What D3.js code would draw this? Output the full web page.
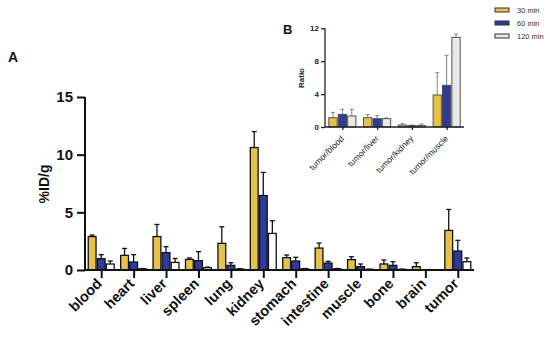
<!DOCTYPE html>
<html>
<head>
<meta charset="utf-8">
<script src="https://cdn.jsdelivr.net/npm/d3@7"></script>
<style>
  body { margin: 0; background: #fff; }
  svg { font-family: "Liberation Sans", Arial, sans-serif; }
</style>
</head>
<body>
<svg id="chart" width="550" height="344"></svg>
<script>
// biodistribution (%ID/g), mean and SD per time point
const organs = ["blood", "heart", "liver", "spleen", "lung", "kidney", "stomach", "intestine", "muscle", "bone", "brain", "tumor"];
const series = ["30 min", "60 min", "120 min"];
const mean30 = [2.9, 1.27, 2.9, 0.92, 2.31, 10.62, 1.07, 1.9, 0.9, 0.52, 0.29, 3.43];
const sd30 = [0.13, 0.6, 1.05, 0.12, 1.44, 1.38, 0.23, 0.44, 0.25, 0.35, 0.34, 1.82];
const mean60 = [0.98, 0.69, 1.5, 0.81, 0.4, 6.46, 0.78, 0.6, 0.29, 0.4, 0.03, 1.64];
const sd60 = [0.35, 0.64, 0.52, 0.78, 0.23, 2.0, 0.32, 0.15, 0.23, 0.32, 0, 0.93];
const mean120 = [0.52, 0.1, 0.66, 0.2, 0.08, 3.17, 0.1, 0.1, 0.05, 0.05, 0.02, 0.72];
const sd120 = [0.26, 0.03, 0.34, 0.05, 0.03, 1.1, 0.03, 0.03, 0.02, 0.02, 0, 0.32];

// tumor-to-organ ratios
const ratios = ["tumor/blood", "tumor/liver", "tumor/kidney", "tumor/muscle"];
const ratio30 = [1.13, 1.13, 0.24, 3.89];
const ratioSd30 = [0.65, 0.37, 0.16, 2.71];
const ratio60 = [1.54, 1.01, 0.16, 5.07];
const ratioSd60 = [0.61, 0.37, 0.08, 3.65];
const ratio120 = [1.34, 1.01, 0.2, 10.9];
const ratioSd120 = [0.81, 0.09, 0.17, 0.4];

const mainTicks = [0, 5, 10, 15];
const insetTicks = [0, 4, 8, 12];

const colors = ["#e6c24a", "#2e3a9c", "#ffffff"];
const insetColors = ["#e6c24a", "#2e3a9c", "#e9e9e9"];

function toRows(cats, means, sds) {
  return cats.map((c, i) => ({
    cat: c,
    vals: series.map((s, j) => ({ key: s, idx: j, v: means[j][i], sd: sds[j][i] }))
  }));
}

const svg = d3.select('#chart');

function drawBars(g, rows, x0, y, opts) {
  const x1 = d3.scaleBand()
    .domain(series)
    .range([0, x0.bandwidth()])
    .paddingInner(opts.innerPad);

  const group = g.append('g')
    .selectAll('g')
    .data(rows)
    .join('g')
    .attr('transform', d => `translate(${x0(d.cat)},0)`);

  const bar = group.selectAll('g')
    .data(d => d.vals)
    .join('g');

  // error bars (upper only)
  bar.filter(d => d.sd > 0)
    .append('line')
    .attr('x1', d => x1(d.key) + x1.bandwidth() / 2)
    .attr('x2', d => x1(d.key) + x1.bandwidth() / 2)
    .attr('y1', d => y(d.v))
    .attr('y2', d => y(d.v + d.sd))
    .attr('stroke', opts.errColor)
    .attr('stroke-width', opts.errWidth);
  bar.filter(d => d.sd > 0)
    .append('line')
    .attr('x1', d => x1(d.key) + x1.bandwidth() / 2 - opts.cap)
    .attr('x2', d => x1(d.key) + x1.bandwidth() / 2 + opts.cap)
    .attr('y1', d => y(d.v + d.sd))
    .attr('y2', d => y(d.v + d.sd))
    .attr('stroke', opts.errColor)
    .attr('stroke-width', opts.errWidth);

  bar.append('rect')
    .attr('x', d => x1(d.key))
    .attr('width', x1.bandwidth())
    .attr('y', d => y(d.v))
    .attr('height', d => y(0) - y(d.v))
    .attr('fill', d => opts.colors[d.idx])
    .attr('stroke', opts.stroke)
    .attr('stroke-width', opts.strokeWidth);
}

// ---- panel A ----
const xMain = d3.scaleBand()
  .domain(organs)
  .range([85, 474])
  .paddingInner(0.2)
  .paddingOuter(0.1);

const yMain = d3.scaleLinear()
  .domain([0, 15])
  .range([270, 97]);

const gA = svg.append('g');

drawBars(gA, toRows(organs, [mean30, mean60, mean120], [sd30, sd60, sd120]), xMain, yMain, {
  innerPad: 0.14, colors: colors, stroke: '#111', strokeWidth: 1.3,
  errColor: '#111', errWidth: 1.3, cap: 2.5
});

const yAxisA = gA.append('g')
  .attr('transform', 'translate(85,0)')
  .call(d3.axisLeft(yMain).tickValues(mainTicks).tickSize(8).tickPadding(4));

const xAxisA = gA.append('g')
  .attr('transform', 'translate(0,270)')
  .call(d3.axisBottom(d3.scalePoint().domain(organs).range([xMain(organs[0]) + xMain.bandwidth() / 2, xMain(organs[11]) + xMain.bandwidth() / 2]))
    .tickSize(8).tickFormat(''));

xAxisA.select('.domain').attr('d', 'M85,0H474');

[yAxisA, xAxisA].forEach(a => {
  a.selectAll('path, line').attr('stroke', '#111').attr('stroke-width', 2);
});
yAxisA.select('.domain').attr('d', 'M0,270V97');
yAxisA.selectAll('text')
  .attr('font-size', 15)
  .attr('font-weight', 'bold')
  .attr('fill', '#111');

gA.append('g')
  .selectAll('text')
  .data(organs)
  .join('text')
  .attr('transform', d => `translate(${xMain(d) + xMain.bandwidth() / 2 - 2},${281}) rotate(-45)`)
  .attr('text-anchor', 'end')
  .attr('dy', '0.35em')
  .attr('font-size', 14.5)
  .attr('font-weight', 'bold')
  .attr('fill', '#111')
  .text(d => d);

gA.append('text')
  .attr('transform', 'translate(49,184) rotate(-90)')
  .attr('text-anchor', 'middle')
  .attr('font-size', 14)
  .attr('font-weight', 'bold')
  .attr('fill', '#111')
  .text('%ID/g');

svg.append('text')
  .attr('x', 8)
  .attr('y', 62)
  .attr('font-size', 14)
  .attr('font-weight', 'bold')
  .attr('fill', '#111')
  .text('A');

// ---- panel B (inset) ----
const xIn = d3.scaleBand()
  .domain(ratios)
  .range([325, 464])
  .paddingInner(0.22)
  .paddingOuter(0.11);

const yIn = d3.scaleLinear()
  .domain([0, 12])
  .range([127, 28.3]);

const gB = svg.append('g');

drawBars(gB, toRows(ratios, [ratio30, ratio60, ratio120], [ratioSd30, ratioSd60, ratioSd120]), xIn, yIn, {
  innerPad: 0.12, colors: insetColors, stroke: '#444', strokeWidth: 0.9,
  errColor: '#777', errWidth: 0.9, cap: 2
});

const yAxisB = gB.append('g')
  .attr('transform', 'translate(325,0)')
  .call(d3.axisLeft(yIn).tickValues(insetTicks).tickSize(4).tickPadding(2));
const xAxisB = gB.append('g')
  .attr('transform', 'translate(0,127)')
  .call(d3.axisBottom(d3.scalePoint().domain(ratios).range([xIn(ratios[0]) + xIn.bandwidth() / 2, xIn(ratios[3]) + xIn.bandwidth() / 2]))
    .tickSize(3).tickFormat(''));
xAxisB.select('.domain').attr('d', 'M325,0H464');
yAxisB.select('.domain').attr('d', 'M0,127V28.3');
[yAxisB, xAxisB].forEach(a => {
  a.selectAll('path, line').attr('stroke', '#222').attr('stroke-width', 1.3);
});
yAxisB.selectAll('text')
  .attr('font-size', 8)
  .attr('font-weight', 'bold')
  .attr('fill', '#222');

gB.append('g')
  .selectAll('text')
  .data(ratios)
  .join('text')
  .attr('transform', d => `translate(${xIn(d) + xIn.bandwidth() / 2},${137}) rotate(-45)`)
  .attr('text-anchor', 'end')
  .attr('dy', '0.35em')
  .attr('font-size', 8.5)
  .attr('fill', '#222')
  .text(d => d);

gB.append('text')
  .attr('transform', 'translate(304,78) rotate(-90)')
  .attr('text-anchor', 'middle')
  .attr('font-size', 8)
  .attr('font-weight', 'bold')
  .attr('fill', '#222')
  .text('Ratio');

svg.append('text')
  .attr('x', 283)
  .attr('y', 34)
  .attr('font-size', 13)
  .attr('font-weight', 'bold')
  .attr('fill', '#111')
  .text('B');

// legend
const legend = svg.append('g')
  .attr('transform', 'translate(495,8)')
  .selectAll('g')
  .data(series)
  .join('g')
  .attr('transform', (d, i) => `translate(0,${i * 13})`);

legend.append('rect')
  .attr('width', 14)
  .attr('height', 4)
  .attr('fill', (d, i) => insetColors[i])
  .attr('stroke', '#333')
  .attr('stroke-width', 1);

legend.append('text')
  .attr('x', 22)
  .attr('y', 2)
  .attr('dy', '0.35em')
  .attr('font-size', 7.5)
  .attr('fill', '#333')
  .text(d => d);
</script>
</body>
</html>
